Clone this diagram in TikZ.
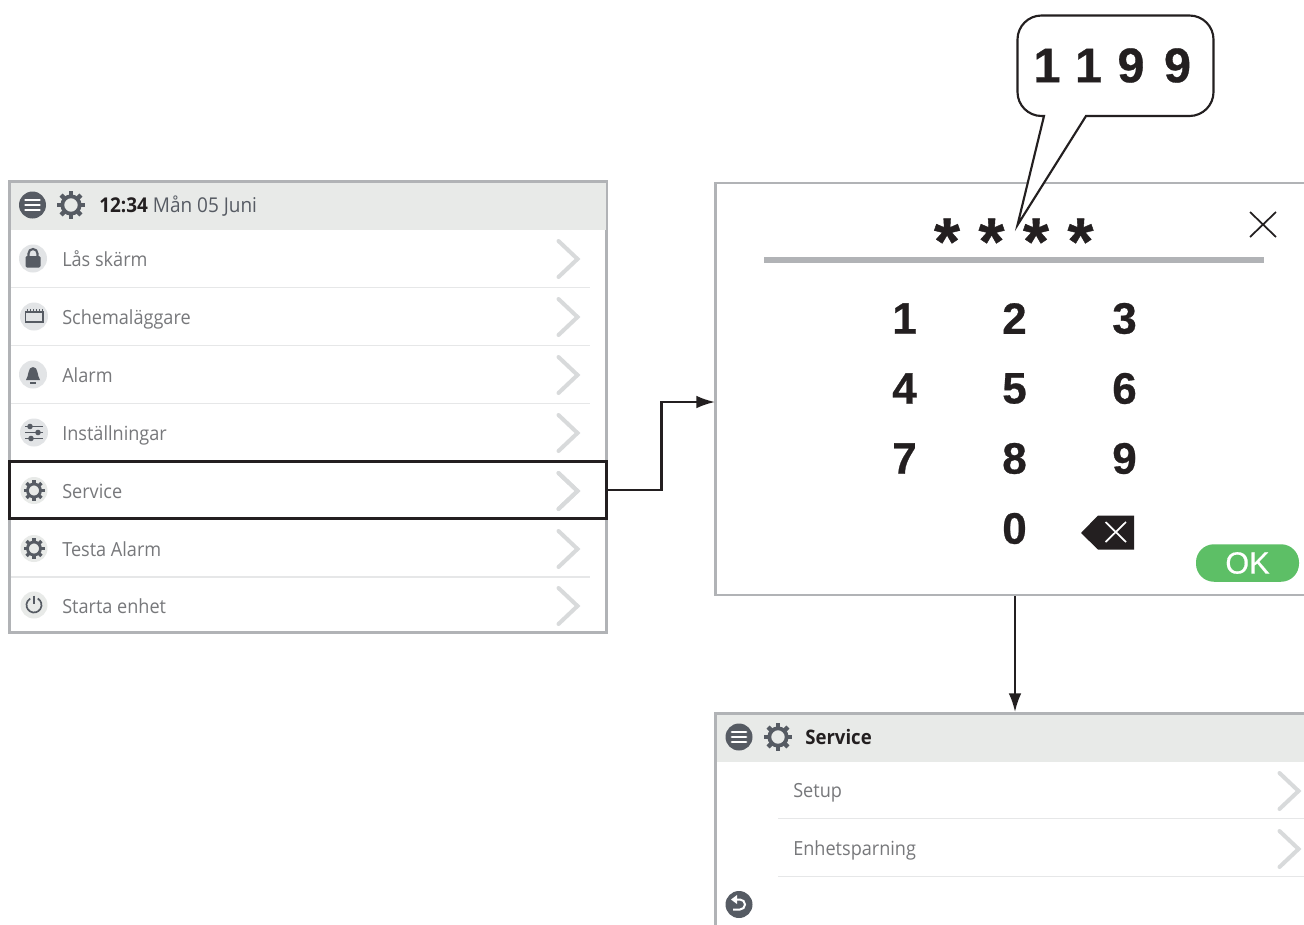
\documentclass[tikz,border=0pt]{standalone}
\usepackage{fontspec}
\setmainfont{Open Sans}
\newfontfamily\uif[FakeStretch=0.93]{Open Sans}
\newfontfamily\arialf[FakeBold=0.4]{Liberation Sans}
\newfontfamily\arialh[FakeBold=0.6]{Liberation Sans Bold}
\usetikzlibrary{arrows.meta,shapes.geometric}
\definecolor{frameg}{HTML}{B1B3B6}
\definecolor{headg}{HTML}{E8EAE8}
\definecolor{sepg}{HTML}{E6E7E8}
\definecolor{chevg}{HTML}{D8DADB}
\definecolor{icong}{HTML}{565B63}
\definecolor{circg}{HTML}{E2E4E6}
\definecolor{textg}{HTML}{77787B}
\definecolor{inkk}{HTML}{231F20}
\definecolor{okg}{HTML}{5DBF66}
\newcommand{\gearicon}[4]{% x,y,outer radius,colour
  \draw[#4,line width=#3*0.2] (#1,#2) circle[radius=#3*0.62];
  \foreach \a in {0,45,...,315}
    \draw[#4,line width=#3*0.24] ({#1+#3*0.6*cos(\a)},{#2+#3*0.6*sin(\a)}) -- ({#1+#3*cos(\a)},{#2+#3*sin(\a)});
}
\newcommand{\menuicon}[2]{% x,y
  \fill[icong] (#1,#2) circle[radius=13.5];
  \foreach \d in {-5,0,5} \draw[white,line width=2.1pt,line cap=round] (#1-7,#2+\d) -- (#1+7,#2+\d);
}
\newcommand{\chev}[2]{% x,y
  \draw[chevg,line width=3pt,line cap=round] (#1,#2-18) -- (#1+19,#2) -- (#1,#2+18);
}
\tikzset{
  x=0.75pt,y=-0.75pt,
  panel/.style={draw=frameg,line width=2.2pt,fill=white,rectangle,inner sep=0,outer sep=0},
  itemlabel/.style={anchor=base west,text=textg,font=\uif\fontsize{14.6pt}{17pt}\selectfont,inner sep=0},
  digit/.style={font=\arialh\fontsize{33pt}{36pt}\selectfont,text=inkk,inner sep=0},
  bubdigit/.style={font=\arialh\fontsize{36.5pt}{38pt}\selectfont,text=inkk,inner sep=0},
  conn/.style={draw=inkk,line width=1.6pt,-{Latex[length=14pt,width=9.5pt]}},
  sep/.style={sepg,line width=1pt},
  iconbg/.style={fill=circg},
  minicon/.style={icong}
}
\begin{document}
\begin{tikzpicture}
\useasboundingbox (0,0) rectangle (1304,925);
\clip (0,0) rectangle (1304,925);
\fill[white] (0,0) rectangle (1304,925);

% --- left panel
\node[panel,minimum width=597*0.75pt,minimum height=451*0.75pt,anchor=north west] (menu) at (9.5,181.5) {};
\fill[headg] (11,183) rectangle (605.5,230);
\menuicon{32.5}{205}
\gearicon{71}{205}{14}{icong}
\node[anchor=base west,inner sep=0,text=inkk,font=\uif\fontsize{15.3pt}{17pt}\selectfont] (clock) at (99,212) {\textbf{12:34}\ \textcolor{icong}{Mån 05 Juni}};

\foreach \y in {287.5,345.5,403.5,461,519,577}
  \draw[sep] (11,\y) -- (590,\y);
\foreach \y in {259,317,375,433,491,549,606}
  \chev{558.5}{\y};

\node[itemlabel] (l1) at (62,266) {Lås skärm};
\node[itemlabel] (l2) at (62,324) {Schemaläggare};
\node[itemlabel] (l3) at (62,382) {Alarm};
\node[itemlabel] (l4) at (62,440.5) {Inställningar};
\node[itemlabel] (l6) at (62,556.5) {Testa Alarm};
\node[itemlabel] (l7) at (62,613.5) {Starta enhet};

% icons
\fill[iconbg] (33,258.5) circle[radius=14];
\fill[minicon,rounded corners=1pt] (25.5,256) rectangle (40.5,267.5);
\draw[minicon,line width=1.6pt] (28.5,257) -- (28.5,253.5) arc[start angle=180,end angle=360,radius=4.5] -- (37.5,257);
\fill[iconbg] (34,316.5) circle[radius=14];
\draw[minicon,line width=1.1pt] (25.5,312) rectangle (43,322);
\foreach \x in {27,30,33,36,39,42} \draw[minicon,line width=0.6pt] (\x,309) -- (\x,311.5);
\fill[iconbg] (33,374.5) circle[radius=14];
\fill[minicon] (26,380) .. controls (29,376) and (27.5,367) .. (33,367) .. controls (38.5,367) and (37,376) .. (40,380) -- cycle;
\fill[minicon] (30,382) rectangle (36,384);
\fill[iconbg] (34,432.5) circle[radius=14];
\foreach \d/\k in {-6/30,0/38,6/31} {
  \draw[minicon,line width=1.1pt] (25,432.5+\d) -- (43,432.5+\d);
  \fill[minicon] (\k,432.5+\d) circle[radius=2.8];
}
\fill[headg] (34,490.5) circle[radius=13.5];
\gearicon{34}{490.5}{10.5}{icong}
\fill[headg] (34,548.5) circle[radius=13.5];
\gearicon{34}{548.5}{10.5}{icong}
\fill[headg] (34,605) circle[radius=13.5];
\draw[minicon,line width=1.3pt] (37.75,598.5) arc[start angle=300,end angle=600,radius=7.5];
\draw[minicon,line width=1.3pt] (34,595.5) -- (34,604);

% highlighted row
\node[draw=inkk,line width=1.6pt,rectangle,minimum width=597*0.75pt,minimum height=57*0.75pt,anchor=north west,outer sep=0,inner sep=0] (svc) at (9.5,461.5) {};
\chev{558.5}{491}
\node[itemlabel] (l5) at (62,498.5) {Service};

% --- keypad panel
\node[panel,minimum width=640*0.75pt,minimum height=412*0.75pt,anchor=north west] (pad) at (715.5,183) {};
\draw[frameg,line width=3.8pt] (764,260) -- (1264,260);
\foreach \x/\n in {947/a,991.5/b,1036/c,1080.5/d}
  \node[font=\arialh\fontsize{50pt}{50pt}\selectfont,text=inkk,inner sep=0] (st\n) at (\x,241.5) {*};
\draw[inkk,line width=1.3pt] (1250,212) coordinate (xa) -- (1276,237) coordinate (xb) (1276,212) coordinate (xc) -- (1250,237) coordinate (xd);

\node[digit] (k1) at (904.5,318.5) {1};
\node[digit] (k2) at (1014.5,318.5) {2};
\node[digit] (k3) at (1124.5,318.5) {3};
\node[digit] (k4) at (904.5,388.5) {4};
\node[digit] (k5) at (1014.5,388.5) {5};
\node[digit] (k6) at (1124.5,388.5) {6};
\node[digit] (k7) at (904.5,458.5) {7};
\node[digit] (k8) at (1014.5,458.5) {8};
\node[digit] (k9) at (1124.5,458.5) {9};
\node[digit] (k0) at (1014.5,528.5) {0};
\fill[inkk] (1081,533) -- (1098,515.5) -- (1134,515.5) -- (1134,549.5) -- (1098,549.5) -- cycle;
\draw[white,line width=1.3pt] (1105.5,522) -- (1126,542) (1126,522) -- (1105.5,542);
\node[fill=okg,rounded corners=13.5pt,minimum width=103*0.75pt,minimum height=37.5*0.75pt,inner sep=0,text=white,font=\arialf\fontsize{23pt}{27pt}\selectfont] (ok) at (1247.5,563) {OK};

% --- speech bubble
\draw[inkk,line width=1.6pt,fill=white,line join=miter]
  (1017.5,225) coordinate (tip) -- (1044,116)
  [rounded corners=18pt] -- (1017.5,116) -- (1017.5,15.5) -- (1213.5,15.5) -- (1213.5,116)
  [sharp corners] -- (1086,116) -- cycle;
\node[bubdigit] (b1) at (1047,65.5) {1};
\node[bubdigit] (b2) at (1088.5,65.5) {1};
\node[bubdigit] (b3) at (1131,65.5) {9};
\node[bubdigit] (b4) at (1177.5,65.5) {9};

% --- service panel
\node[panel,minimum width=640*0.75pt,minimum height=260*0.75pt,anchor=north west] (srv) at (715.5,713.5) {};
\fill[headg] (717,715) rectangle (1304,762);
\menuicon{739}{737}
\gearicon{778}{737}{14}{icong}
\node[anchor=base west,inner sep=0,text=inkk,font=\uif\bfseries\fontsize{15pt}{17pt}\selectfont] (srvt) at (805,744) {Service};
\node[itemlabel] (s1) at (793,797) {Setup};
\node[itemlabel] (s2) at (793,855) {Enhetsparning};
\draw[sep] (778,818.5) -- (1304,818.5);
\draw[sep] (778,876.5) -- (1304,876.5);
\chev{1279.5}{791}
\chev{1279.5}{849}
\fill[icong] (739,904.5) circle[radius=13.5];
\draw[white,line width=1.5pt] (735,899.5) -- (740,899.5) arc[start angle=270,end angle=450,radius=5] -- (733,909.5);
\fill[white] (731,899.5) -- (737,895) -- (737,904) -- cycle;

% --- connectors
\coordinate (padin) at (715,402);
\coordinate (mid) at (661.5,402);
\coordinate (svcout) at (svc.east);
\coordinate (padout) at (1015,596);
\coordinate (srvin) at (1015,712);
\draw[conn] (svcout) -| (mid) -- (padin);
\draw[conn] (padout) -- (srvin);
\end{tikzpicture}
\end{document}
